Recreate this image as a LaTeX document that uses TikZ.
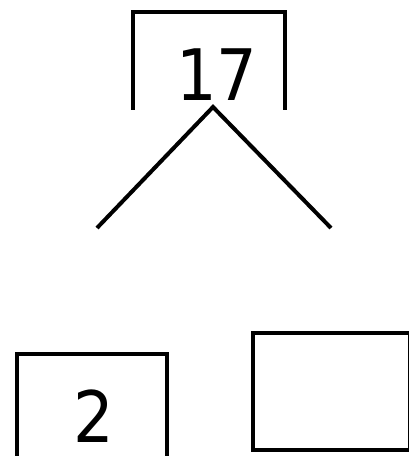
\documentclass[tikz,border=0pt]{standalone}
\usepackage{fontspec}
\setmainfont{DejaVu Sans Condensed}
\tikzset{
  boxline/.style={line width=4pt, line cap=rect},
  num/.style={anchor=base, inner sep=0pt, font=\fontsize{71}{71}\selectfont}
}
\begin{document}
\begin{tikzpicture}[x=1pt, y=-1pt]
			\useasboundingbox (0,0) rectangle (408,456);
			\draw[boxline] (133,108) -- (133,12) -- (285,12) -- (285,108);
			\node[num] (root) at (217,100) {17};
			\coordinate (top) at (213,107);
			\coordinate (lend) at (97,228);
			\coordinate (rend) at (331,228);
			\draw[line width=4pt] (lend) -- (top) -- (rend);
			\draw[boxline] (17,456) -- (17,354) -- (167,354) -- (167,456);
			\node[num] (two) at (94,442) {2};
			\draw[boxline] (253,333) rectangle (410,450);
		\end{tikzpicture}
\end{document}
